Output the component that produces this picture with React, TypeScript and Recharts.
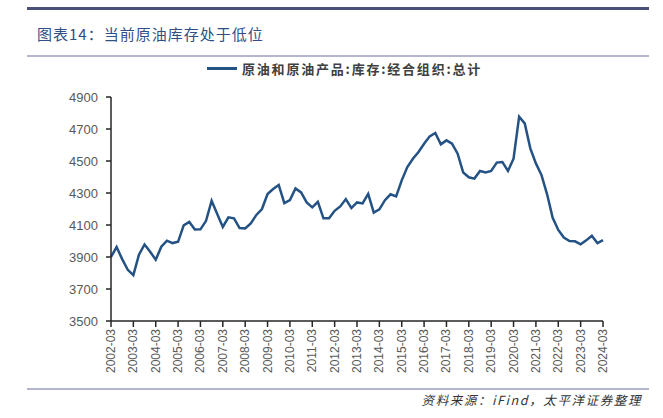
import React from "react";
import { LineChart, Line, XAxis, YAxis } from "recharts";

// quarterly, 2002-03 .. 2024-03
const years = [
  2002, 2003, 2004, 2005, 2006, 2007, 2008, 2009, 2010, 2011, 2012, 2013,
  2014, 2015, 2016, 2017, 2018, 2019, 2020, 2021, 2022, 2023, 2024,
];
const months = ["03", "06", "09", "12"];

// OECD crude & products stocks, million bbl
const stocks = [
  3900, 3962, 3887, 3820, 3787, 3914, 3978, 3933, 3883, 3964, 4002, 3987,
  3995, 4098, 4119, 4072, 4073, 4126, 4252, 4169, 4088, 4148, 4142, 4081,
  4079, 4110, 4163, 4200, 4294, 4325, 4350, 4237, 4256, 4329, 4304, 4241,
  4210, 4245, 4142, 4142, 4189, 4216, 4262, 4206, 4241, 4235, 4294, 4177,
  4198, 4255, 4292, 4279, 4379, 4462, 4514, 4556, 4608, 4654, 4675, 4604,
  4629, 4608, 4546, 4428, 4398, 4390, 4438, 4429, 4438, 4490, 4494, 4438,
  4514, 4777, 4735, 4579, 4485, 4412, 4292, 4145, 4069, 4022, 4000, 3998,
  3979, 4004, 4033, 3987, 4006,
];

const yTicks = [3500, 3700, 3900, 4100, 4300, 4500, 4700, 4900];

const seriesName = "原油和原油产品:库存:经合组织:总计";
const title = "图表14：当前原油库存处于低位";
const source = "资料来源：iFind，太平洋证券整理";

const quarters = years.flatMap((y) => months.map((m) => `${y}-${m}`));
const data = stocks.map((v, i) => ({ date: quarters[i], value: v }));

const LINE = "#245284";
const CJK = "'Noto Sans CJK SC', 'Noto Sans', sans-serif";
const NUM = "'Liberation Sans', Arial, sans-serif";

function XTick({ x, y, payload }: any) {
  return (
    <g transform={`translate(${x},${y})`}>
      <text
        transform="rotate(-90)"
        textAnchor="end"
        dominantBaseline="central"
        fill="#595959"
        fontSize={12}
        fontFamily={NUM}
      >
        {payload.value}
      </text>
    </g>
  );
}

export default function App() {
  return (
    <div
      style={{
        position: "absolute",
        left: 0,
        top: 0,
        width: 663,
        height: 418,
        background: "#fff",
        overflow: "hidden",
      }}
    >
      <div style={{ position: "absolute", left: 27, top: 7, width: 622, height: 3, background: "#4b5079" }} />
      <div
        style={{
          position: "absolute",
          left: 37,
          top: 24,
          fontFamily: CJK,
          fontSize: 15,
          letterSpacing: 1,
          color: "#2f4f85",
          lineHeight: "20px",
          whiteSpace: "nowrap",
        }}
      >
        {title}
      </div>
      <div style={{ position: "absolute", left: 27, top: 55, width: 622, height: 2, background: "#b3b6cc" }} />

      <div
        style={{
          position: "absolute",
          left: 207,
          top: 59,
          height: 18,
          display: "flex",
          alignItems: "center",
          whiteSpace: "nowrap",
        }}
      >
        <div style={{ width: 30, height: 3, background: LINE, marginRight: 5 }} />
        <span
          style={{
            fontFamily: CJK,
            fontSize: 13,
            fontWeight: 700,
            letterSpacing: 1.8,
            color: "#404040",
          }}
        >
          {seriesName}
        </span>
      </div>

      <div style={{ position: "absolute", left: 0, top: 0 }}>
        <LineChart
          width={663}
          height={418}
          data={data}
          margin={{ top: 97, right: 60, bottom: 37, left: 0 }}
        >
          <XAxis
            dataKey="date"
            interval={3}
            height={60}
            tick={<XTick />}
            tickSize={6}
            tickMargin={2}
            axisLine={{ stroke: "#262626", strokeWidth: 1.5 }}
            tickLine={{ stroke: "#262626", strokeWidth: 1.5 }}
          />
          <YAxis
            width={111}
            domain={[3500, 4900]}
            ticks={yTicks}
            interval={0}
            tickSize={5}
            tickMargin={8}
            tick={{ fill: "#595959", fontSize: 13, fontFamily: NUM }}
            axisLine={{ stroke: "#262626", strokeWidth: 1.5 }}
            tickLine={{ stroke: "#262626", strokeWidth: 1.5 }}
          />
          <Line
            type="linear"
            dataKey="value"
            name={seriesName}
            stroke={LINE}
            strokeWidth={2.5}
            dot={false}
            isAnimationActive={false}
          />
        </LineChart>
      </div>

      <div style={{ position: "absolute", left: 27, top: 388, width: 622, height: 2, background: "#b3b6cc" }} />
      <div
        style={{
          position: "absolute",
          right: 21,
          top: 391,
          fontFamily: CJK,
          fontSize: 12.5,
          fontStyle: "italic",
          letterSpacing: 1.6,
          color: "#333",
          lineHeight: "18px",
          whiteSpace: "nowrap",
        }}
      >
        {source}
      </div>
    </div>
  );
}
